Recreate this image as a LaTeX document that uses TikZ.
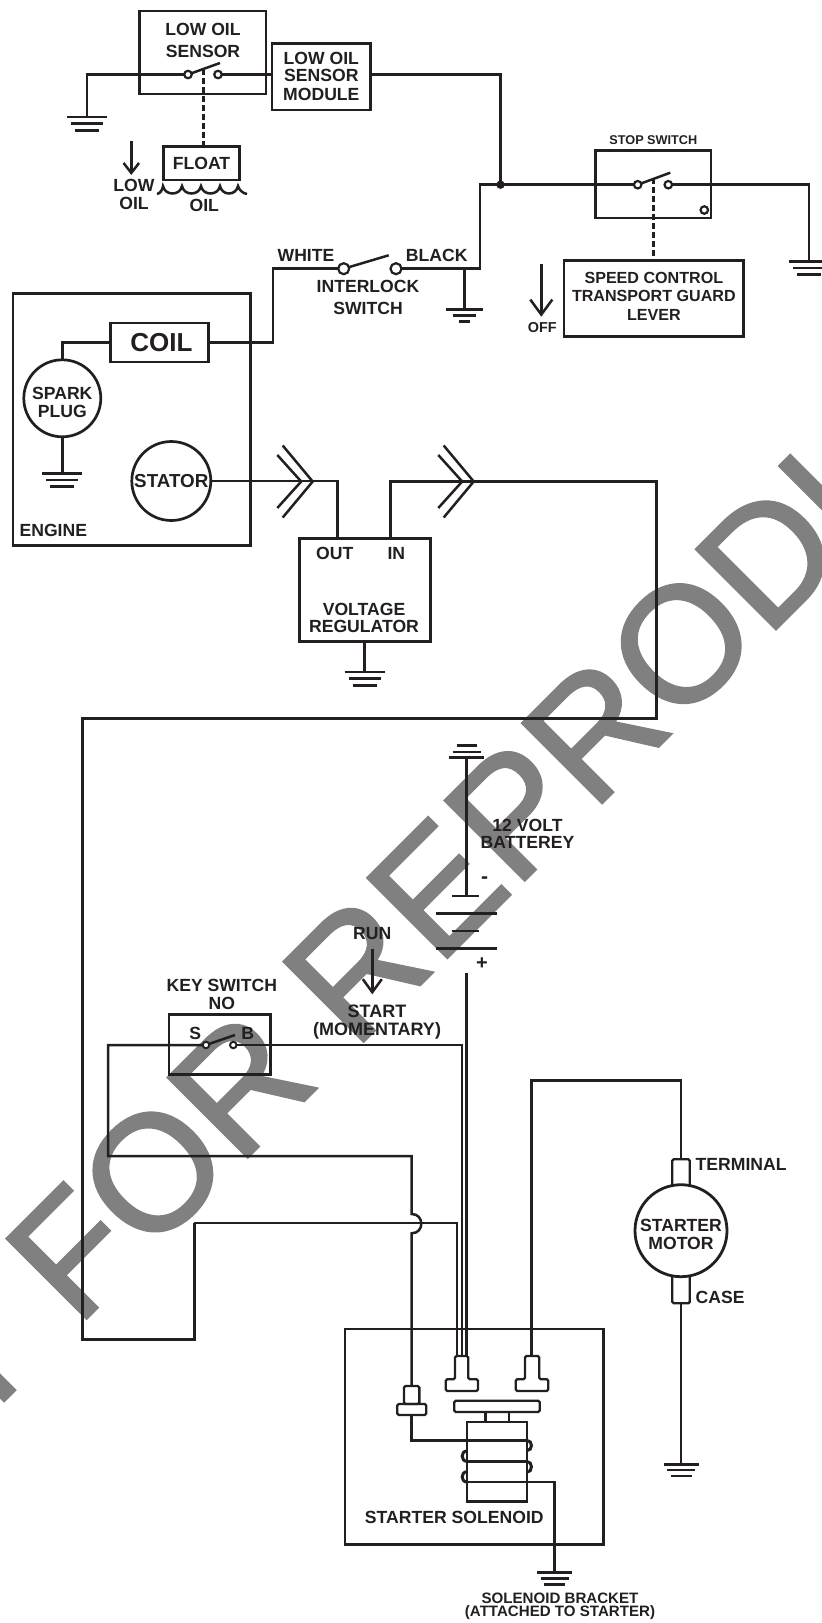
\documentclass[tikz,border=0pt]{standalone}
\usepackage{fontspec}
\setmainfont{Liberation Sans}
\newfontfamily\stampfont[FakeBold=1.6]{Liberation Sans}
\usetikzlibrary{arrows.meta, positioning}
\definecolor{ink}{HTML}{231F20}
\definecolor{stamp}{HTML}{808080}

\begin{document}
\begin{tikzpicture}[
    x=1pt, y=-1pt,
    box/.style={rectangle, draw=ink, line width=2.6pt, inner sep=0pt, outer sep=0pt, text=ink,
                align=center, font=\bfseries\fontsize{17.6}{18}\selectfont},
    round/.style={circle, draw=ink, line width=2.7pt, inner sep=0pt, outer sep=0pt, text=ink,
                align=center, font=\bfseries\fontsize{17.6}{17.6}\selectfont},
    contact/.style={circle, draw=ink, fill=white, line width=2.2pt, inner sep=0pt, outer sep=0pt, minimum size=7.5pt},
    lbl/.style={inner sep=0pt, outer sep=0pt, text=ink, align=center, font=\bfseries\fontsize{17.6}{17.6}\selectfont},
    wire/.style={draw=ink, line width=2.5pt},
    thinwire/.style={draw=ink, line width=1.9pt},
    link/.style={draw=ink, line width=3pt, dash pattern=on 5.5pt off 3.5pt},
    lug/.style={draw=ink, line width=2.3pt, rounded corners=1.5pt},
    gnd/.pic={
        \draw[wire] (-20,0) -- (20,0);
        \draw[wire] (-16,6.7) -- (16,6.7);
        \draw[wire] (-12,13.4) -- (12,13.4);
    },
    gndnarrow/.pic={
        \draw[wire] (-18.8,0) -- (18.8,0);
        \draw[wire] (-11.7,6) -- (11.7,6);
        \draw[wire] (-5.7,12) -- (5.7,12);
    },
    plug/.pic={
        \draw[wire] (-30,-36) -- (0,0) -- (-30,36);
        \draw[wire] (-35.4,-26.5) -- (-11.5,0) -- (-35.4,26.5);
    }
]
\useasboundingbox (0,0) rectangle (822,1623);

% stamp behind the drawing
\begin{scope}
\clip (0,0) rectangle (822,1623);
\node[anchor=base west, rotate=45, inner sep=0pt, text=stamp, font=\stampfont\fontsize{164}{164}\selectfont] (stamptext) at (-26,1431) {T FOR REPRODU};
\end{scope}

% low oil sensor
\node[box, minimum width=126.5pt, minimum height=83pt] (sensor) at (202.75,52.5) {};
\node[lbl, font=\bfseries\fontsize{17.6}{21.4}\selectfont] (sensorlbl) at (203,40.5) {LOW OIL\\SENSOR};
\node[contact] (s1) at (188,74.5) {};
\node[contact] (s2) at (218,74.5) {};
\coordinate (s3) at (220,63);
\coordinate (s4) at (203,69);
\draw[wire] (s1) -- (s3);
\node[box, minimum width=98.7pt, minimum height=66.3pt, font=\bfseries\fontsize{17.6}{17}\selectfont] (module) at (321.35,76.85) {LOW OIL\\SENSOR\\[2pt]MODULE};
\node[box, minimum width=75.6pt, minimum height=33.3pt] (float) at (201.5,163.35) {FLOAT};
\draw[link] (s4) -- (s4 |- float.north);
\coordinate (g1) at (87,117);
\pic at (g1) {gnd};
\draw[wire] (g1) |- (s1);
\draw[wire] (s2) -- (module.west |- s2);
\coordinate (lowa) at (131.3,141);
\coordinate (lowb) at (131.3,175);
\draw[wire, -{Straight Barb[length=10pt,width=15.5pt]}] (lowa) -- (lowb);
\node[lbl] (lowoil) at (134,194.5) {LOW\\OIL};
\node[lbl] (oil) at (204.3,205) {OIL};
\draw[wire] (157,194) .. controls (160,193.5) and (162.5,190) .. (163,186)
    .. controls (165,196) and (180,196) .. (182,186)
    .. controls (184,196) and (199,196) .. (201,186)
    .. controls (203,196) and (218,196) .. (220,186)
    .. controls (222,196) and (236,196) .. (238,186)
    .. controls (239,190) and (243,193.5) .. (247,194);

% stop switch
\coordinate (jn) at (500.5,184.7);
\coordinate (jt) at (500.5,74.5);
\draw[wire] (module.east |- jt) -- (jt) -- (jn);
\fill[ink] (jn) circle (4.2pt);
\node[box, minimum width=115.3pt, minimum height=67.3pt] (stop) at (653.35,184.35) {};
\node[lbl, above=6.5pt of stop, font=\bfseries\fontsize{12.7}{13}\selectfont] (stoplbl) {STOP SWITCH};
\node[contact] (p1) at (637.7,184.7) {};
\node[contact] (p2) at (668.3,184.7) {};
\node[contact] (p3) at (704.3,210) {};
\coordinate (p4) at (670.3,172.7);
\coordinate (p5) at (653.3,178);
\draw[wire] (p1) -- (p4);
\node[box, minimum width=179.7pt, minimum height=76.4pt, font=\bfseries\fontsize{16.1}{18.7}\selectfont] (lever) at (653.85,298.5) {SPEED CONTROL\\TRANSPORT GUARD\\LEVER\rule[-4.5pt]{0pt}{4.5pt}};
\draw[link] (p5) -- (p5 |- lever.north);
\coordinate (offa) at (541.3,264.3);
\coordinate (offb) at (541.3,316.7);
\draw[wire, -{Straight Barb[length=15pt,width=22pt]}] (offa) -- (offb);
\node[lbl, font=\bfseries\fontsize{14.4}{15}\selectfont] (off) at (542.3,327.3) {OFF};
\coordinate (g2) at (809,261.3);
\pic at (g2) {gnd};
\draw[wire] (p2) -| (g2);

% interlock switch
\node[contact, minimum size=11pt] (i1) at (343.7,268.7) {};
\node[contact, minimum size=11pt] (i2) at (396,268.7) {};
\coordinate (i3) at (388.7,255.3);
\draw[wire] (i1) -- (i3);
\node[lbl] (white) at (306,255.7) {WHITE};
\node[lbl] (black) at (436.7,255.7) {BLACK};
\node[lbl, font=\bfseries\fontsize{17.6}{22}\selectfont] (interlock) at (368,297.5) {INTERLOCK\\SWITCH};
\coordinate (i4) at (480,268.7);
\coordinate (i5) at (464.3,268.7);
\coordinate (g3) at (464.3,309.3);
\pic at (g3) {gndnarrow};
\draw[wire] (i2) -- (i4) |- (p1);
\draw[wire] (i5) -- (g3);

% engine
\node[box, minimum width=237.7pt, minimum height=252pt] (engine) at (131.85,419.3) {};
\node[lbl] (enginelbl) at (53.3,530.7) {ENGINE};
\node[box, minimum width=97.6pt, minimum height=39pt, font=\bfseries\fontsize{26}{26}\selectfont] (coil) at (159.5,342.5) {\hspace{4pt}COIL};
\node[round, minimum size=77pt] (spark) at (62.3,398.3) {\rule{0pt}{20pt}SPARK\\PLUG};
\node[round, minimum size=79pt, font=\bfseries\fontsize{18.8}{19}\selectfont] (stator) at (171.3,481) {STATOR};
\coordinate (g4) at (62.3,473.3);
\pic at (g4) {gnd};
\draw[wire] (coil.west) -| (spark.north);
\draw[wire] (spark.south) -- (g4);
\coordinate (i6) at (273,342.5);
\draw[wire] (coil.east) -- (i6) |- (i1);

% voltage regulator
\node[box, minimum width=130.6pt, minimum height=103pt] (reg) at (365,589.8) {};
\node[lbl] (out) at (334.7,553.7) {OUT};
\node[lbl] (in) at (396.3,553.7) {IN};
\node[lbl] (reglbl) at (364,618) {VOLTAGE\\REGULATOR};
\coordinate (r1) at (337.7,538.3);
\coordinate (r2) at (390.7,538.3);
\coordinate (r3) at (656.5,481.5);
\coordinate (r4) at (656.5,718.5);
\coordinate (r5) at (82.7,1339.3);
\coordinate (r6) at (194.3,1223.3);
\coordinate (g5) at (364.7,672);
\pic at (g5) {gnd};
\draw[wire] (reg.south -| g5) -- (g5);
\draw[wire] (stator.east) -| (r1);
\draw[wire] (r2) |- (r3) -- (r4) -| (r5) -- (r6 |- r5) -- (r6);
\pic at (312.7,481.5) {plug};
\pic at (473.7,481.5) {plug};

% battery
\coordinate (b0) at (466.7,757.7);
\coordinate (b1) at (466.7,896);
\coordinate (b2) at (466.7,972.7);
\draw[wire, line width=2.7pt] (b0) -- (b1);
\draw[wire] (449.3,757.7) -- (484,757.7);
\draw[wire] (452.7,752) -- (480.7,752);
\draw[wire] (456.7,745.7) -- (476.7,745.7);
\draw[wire, line width=2.7pt] (452,896) -- (479.3,896);
\draw[wire, line width=2.7pt] (436,913.7) -- (496.7,913.7);
\draw[wire, line width=2.7pt] (452,931) -- (479.3,931);
\draw[wire, line width=2.7pt] (436,948.3) -- (496.7,948.3);
\node[lbl, font=\bfseries\fontsize{21}{21}\selectfont] (minus) at (484.7,880) {-};
\node[lbl, font=\bfseries\fontsize{20}{20}\selectfont] (plus) at (482,964) {+};
\node[lbl] (battery) at (527.5,834) {12 VOLT\hspace{8pt}\\BATTEREY};

% key switch
\node[lbl] (run) at (372.3,933.5) {RUN};
\coordinate (runa) at (372.3,948.7);
\coordinate (runb) at (372.3,994.3);
\draw[wire, -{Straight Barb[length=13pt,width=19pt]}] (runa) -- (runb);
\node[lbl, font=\bfseries\fontsize{18}{17.6}\selectfont] (start) at (377,1022) {START\\(MOMENTARY)};
\node[lbl] (keylbl) at (221.8,994.5) {KEY SWITCH\\NO};
\node[box, minimum width=101.3pt, minimum height=60pt] (key) at (219.65,1044.3) {};
\node[lbl] (s) at (195.3,1033.7) {S};
\node[lbl] (b) at (247.7,1033.7) {B};
\node[contact, line width=2pt, minimum size=6.5pt] (k1) at (206,1045) {};
\node[contact, line width=2pt, minimum size=6.5pt] (k2) at (233.3,1045) {};
\coordinate (k3) at (235,1035);
\draw[wire] (k1) -- (k3);

% starter solenoid
\node[box, line width=2.4pt, minimum width=258.3pt, minimum height=215.3pt] (solenoid) at (474.15,1436.65) {};
\node[lbl] (solenoidlbl) at (454.3,1517.7) {STARTER SOLENOID};
\node[box, line width=2.3pt, rounded corners=1.5pt, minimum width=85.4pt, minimum height=11.3pt] (plate) at (497,1406.35) {};
\node[box, line width=2.3pt, minimum width=23.3pt, minimum height=10pt, below=0pt of plate] (stem) {};
\node[box, line width=2.5pt, minimum width=59.7pt, minimum height=79.3pt, below=0pt of stem] (body) {};
\node[box, lug, minimum width=15.3pt, minimum height=18pt] (lugtop) at (411.7,1395) {};
\node[box, lug, minimum width=29pt, minimum height=11pt, below=0pt of lugtop] (lugbase) {};
\draw[lug] (455,1356) -- (468.3,1356) -- (468.3,1379.3) -- (478,1379.3) -- (478,1391) -- (445.7,1391) -- (445.7,1379.3) -- (455,1379.3) -- cycle;
\draw[lug] (525,1356) -- (539.3,1356) -- (539.3,1379.3) -- (548.3,1379.3) -- (548.3,1391) -- (515.7,1391) -- (515.7,1379.3) -- (525,1379.3) -- cycle;
\coordinate (t1) at (456.7,1356);
\coordinate (t2) at (462.3,1356);
\coordinate (t3) at (466.7,1356);
\coordinate (t4) at (531.7,1356);

% wires down to the lugs
\coordinate (k4) at (108,1156);
\coordinate (k5) at (411.7,1156);
\coordinate (k6) at (411.7,1214);
\coordinate (k7) at (411.7,1233.3);
\draw[wire] (k1) -| (k4) -- (k5) -- (k6) .. controls (424.5,1214) and (424.5,1233.3) .. (k7) -- (lugtop.north);
\draw[thinwire] (k2) -| (t2);
\draw[thinwire] (r6) -| (t1);
\draw[wire, line width=3pt] (b2) -- (t3);

% coil windings
\coordinate (w1) at (526.7,1440.3);
\coordinate (w2) at (467,1461.3);
\coordinate (w3) at (526.7,1461.3);
\coordinate (w4) at (467,1482);
\coordinate (w5) at (554.7,1482);
\coordinate (g6) at (554.7,1572.7);
\pic[scale=.875] at (g6) {gnd};
\draw[wire] (lugbase.south) |- (w1);
\draw[wire] (w2) -- (w3);
\draw[wire] (w4) -- (w5) -- (g6);
\draw[wire, line width=3pt] (w1) .. controls (533,1440.3) and (533,1450.7) .. (526.7,1450.7);
\draw[wire, line width=3pt] (w3) .. controls (533,1461.3) and (533,1472.3) .. (526.7,1472.3);
\draw[wire, line width=3pt] (w2) .. controls (460.5,1461.3) and (460.5,1451) .. (467,1451);
\draw[wire, line width=3pt] (w4) .. controls (460.5,1482) and (460.5,1471.7) .. (467,1471.7);
\node[lbl, font=\bfseries\fontsize{15.1}{12.8}\selectfont] (bracket) at (560,1606) {SOLENOID BRACKET\\(ATTACHED TO STARTER)};

% starter motor
\node[box, lug, minimum width=17.6pt, minimum height=27pt] (mterm) at (681,1172.8) {};
\node[box, lug, minimum width=17.6pt, minimum height=28pt] (mcase) at (681,1289.3) {};
\node[round, fill=white, minimum size=92pt, line width=2.8pt, font=\bfseries\fontsize{17.6}{18}\selectfont] (motor) at (681,1230.7) {\rule{0pt}{19pt}STARTER\\MOTOR};
\node[lbl, anchor=west] (termlbl) at (695.7,1164.7) {TERMINAL};
\node[lbl, anchor=west] (caselbl) at (695.7,1297.3) {CASE};
\coordinate (m1) at (681,1080.7);
\coordinate (g7) at (681,1464.3);
\pic[scale=.875] at (g7) {gnd};
\draw[wire] (t4) |- (m1) -- (mterm.north);
\draw[wire] (mcase.south) -- (g7);

\end{tikzpicture}
\end{document}
